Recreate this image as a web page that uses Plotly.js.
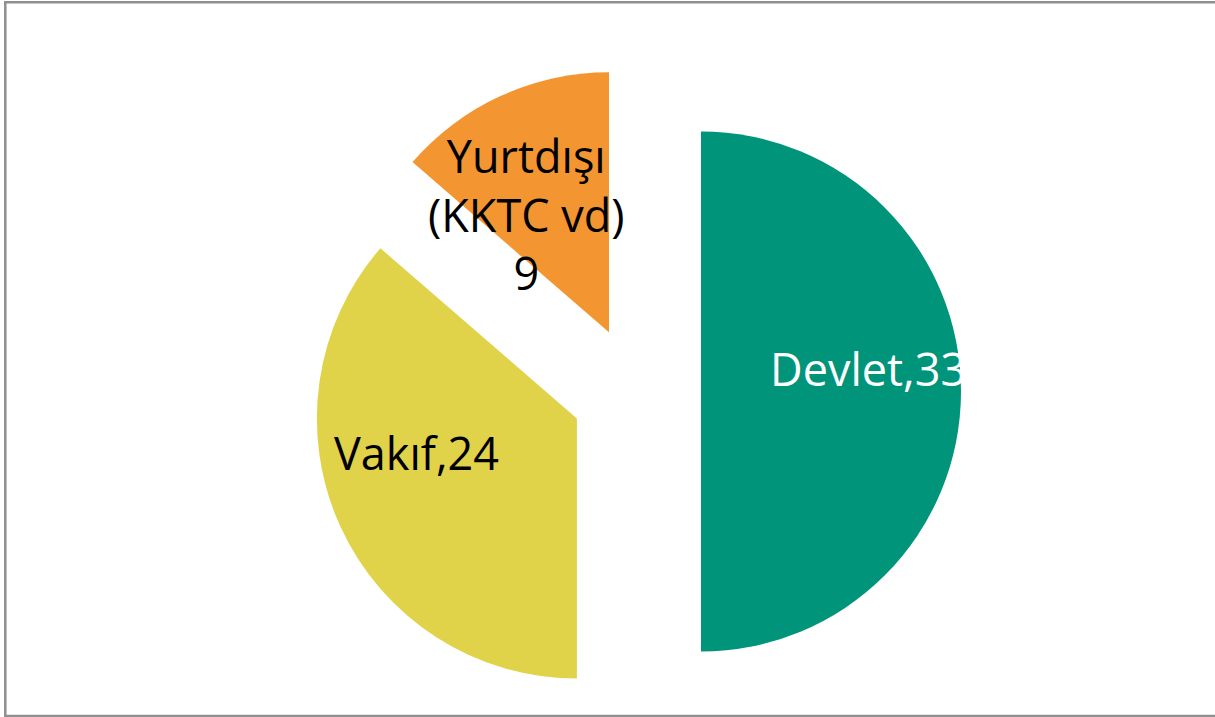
<!DOCTYPE html>
<html>
<head>
<meta charset="utf-8">
<script src="https://cdn.plot.ly/plotly-3.0.1.min.js"></script>
<style>html,body{margin:0;padding:0;background:#fff;}#chart{width:1215px;height:717px;}</style>
</head>
<body>
<div id="chart"></div>
<script>
// Data
const labels = ['Devlet', 'Vakıf', 'Yurtdışı<br>(KKTC vd)'];
const values = [33, 24, 9];
const sliceColors = ['#00947A', '#E0D249', '#F39530'];
const labelTexts = [labels[0] + ',' + values[0], labels[1] + ',' + values[1], labels[2] + '<br>' + values[2]];
const labelColors = ['#FFFFFF', '#000000', '#000000'];

const W = 1215, H = 717;
// label positions (pixel) for annotations
const labelPos = [[868, 368], [416, 452], [526, 214]];

const trace = {
  type: 'pie',
  labels: labels,
  values: values,
  sort: false,
  direction: 'clockwise',
  rotation: 0,
  pull: [0.25, 0.25, 0.25],
  marker: {colors: sliceColors, line: {width: 0}},
  textinfo: 'none',
  hoverinfo: 'label+value',
  domain: {x: [286 / W, 986 / W], y: [0.5 / H, 650.5 / H]},
  showlegend: false
};

const annotations = labelTexts.map((t, i) => ({
  xref: 'paper', yref: 'paper',
  x: labelPos[i][0] / W, y: 1 - labelPos[i][1] / H,
  xanchor: 'center', yanchor: 'middle',
  text: t, showarrow: false,
  font: {family: 'Open Sans', size: 45, color: labelColors[i]}
}));

const layout = {
  width: W, height: H,
  margin: {l: 0, r: 0, t: 0, b: 0},
  paper_bgcolor: '#ffffff',
  showlegend: false,
  annotations: annotations,
  shapes: [{
    type: 'rect', xref: 'paper', yref: 'paper',
    x0: 5.3 / W, x1: 1.02, y0: 1 - 716 / H, y1: 1 - 2.3 / H,
    line: {color: '#8f8f8f', width: 2.5}, fillcolor: 'rgba(0,0,0,0)'
  }]
};

Plotly.newPlot('chart', [trace], layout, {displayModeBar: false, staticPlot: true});
</script>
</body>
</html>
